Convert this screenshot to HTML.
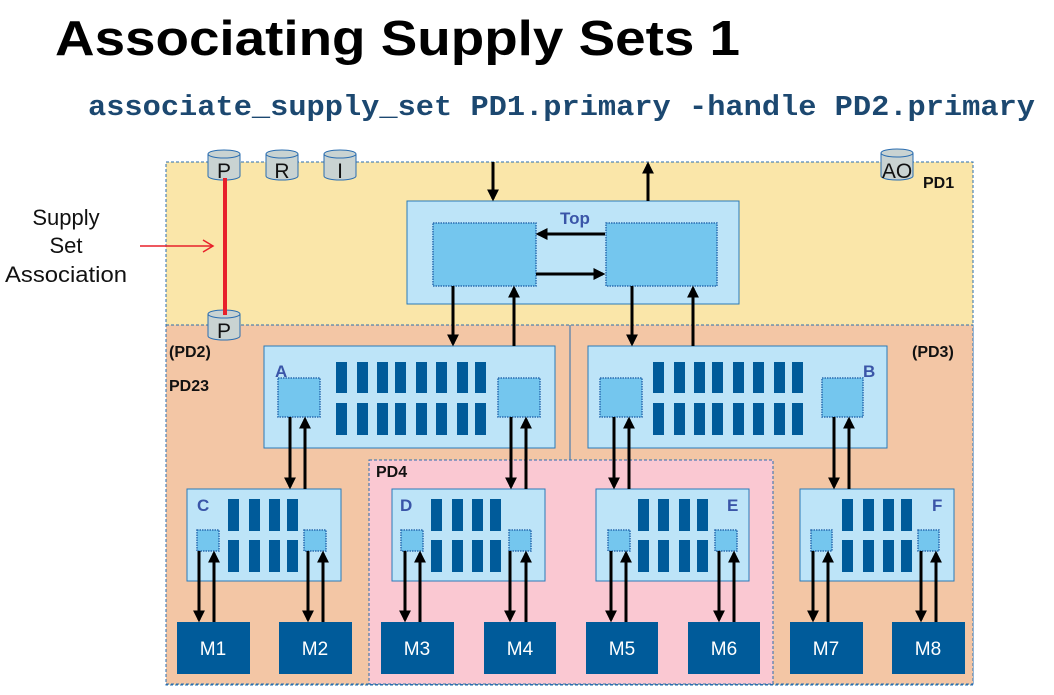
<!DOCTYPE html>
<html><head><meta charset="utf-8"><style>
html,body{margin:0;padding:0;background:#fff;}
svg{display:block;}
</style></head><body>
<svg width="1054" height="695" viewBox="0 0 1054 695" xmlns="http://www.w3.org/2000/svg" font-family="Liberation Sans, Arial, sans-serif">
<defs>
<marker id="ah" markerWidth="4" markerHeight="4" refX="3.2" refY="2" orient="auto" markerUnits="strokeWidth"><path d="M0,0 L4,2 L0,4 z" fill="#000"/></marker>
</defs>
<text x="55" y="55" font-size="49" font-weight="bold" textLength="685" lengthAdjust="spacingAndGlyphs">Associating Supply Sets 1</text>
<text x="88" y="115" font-family="Liberation Mono, monospace" font-size="29" font-weight="bold" fill="#1c4870" textLength="947" lengthAdjust="spacingAndGlyphs">associate_supply_set PD1.primary -handle PD2.primary</text>

<rect x="166" y="162" width="807" height="523" fill="#fae6a9" stroke="#2a6db0" stroke-width="1" stroke-dasharray="3,2"/>
<rect x="166" y="325" width="807" height="359" fill="#f3c6a5" stroke="#2a6db0" stroke-width="1" stroke-dasharray="3,2"/>
<line x1="570" y1="325" x2="570" y2="460" stroke="#2a6db0" stroke-width="1"/>
<rect x="369" y="460" width="404" height="224" fill="#fac8d2" stroke="#2a6db0" stroke-width="1" stroke-dasharray="3,2"/>

<g font-weight="bold" font-size="16" fill="#111">
<text x="923" y="188">PD1</text>
<text x="169" y="357">(PD2)</text>
<text x="169" y="391">PD23</text>
<text x="912" y="357">(PD3)</text>
<text x="376" y="477">PD4</text>
</g>

<g font-size="22" fill="#111" text-anchor="middle">
<text x="66" y="225">Supply</text>
<text x="66" y="253">Set</text>
<text x="66" y="282" textLength="122" lengthAdjust="spacingAndGlyphs">Association</text>
</g>
<line x1="140" y1="246" x2="213" y2="246" stroke="#e8202a" stroke-width="1.5"/>
<path d="M203,240 L213,246 L203,252" fill="none" stroke="#e8202a" stroke-width="1.5"/>

<g stroke="#2a6db0" stroke-width="1" fill="#c9d3d2">
<path d="M208,154 v22 a16,4 0 0 0 32,0 v-22"/><ellipse cx="224" cy="154" rx="16" ry="4"/>
<path d="M266,154 v22 a16,4 0 0 0 32,0 v-22"/><ellipse cx="282" cy="154" rx="16" ry="4"/>
<path d="M324,154 v22 a16,4 0 0 0 32,0 v-22"/><ellipse cx="340" cy="154" rx="16" ry="4"/>
<path d="M881,153 v23 a16,4 0 0 0 32,0 v-23"/><ellipse cx="897" cy="153" rx="16" ry="4"/>
<path d="M208,314 v22 a16,4 0 0 0 32,0 v-22"/><ellipse cx="224" cy="314" rx="16" ry="4"/>
</g>
<line x1="225" y1="178" x2="225" y2="315" stroke="#e8202a" stroke-width="4"/>
<g font-size="21" fill="#111" text-anchor="middle">
<text x="224" y="178">P</text><text x="282" y="178">R</text><text x="340" y="178">I</text>
<text x="897" y="178">AO</text><text x="224" y="338">P</text>
</g>

<rect x="407" y="201" width="332" height="103" fill="#bde4f8" stroke="#2a7ab8" stroke-width="1"/>
<text x="575" y="224" font-size="17" font-weight="bold" fill="#3a55a8" text-anchor="middle">Top</text>
<g fill="#74c6ee" stroke="#2a6db0" stroke-width="1.5" stroke-dasharray="1.5,1">
<rect x="433" y="223" width="103" height="63"/>
<rect x="606" y="223" width="111" height="63"/>
</g>

<g fill="#bde4f8" stroke="#2a7ab8" stroke-width="1">
<rect x="264" y="346" width="291" height="102"/>
<rect x="588" y="346" width="299" height="102"/>
<rect x="187" y="489" width="154" height="92"/>
<rect x="392" y="489" width="153" height="92"/>
<rect x="596" y="489" width="153" height="92"/>
<rect x="800" y="489" width="154" height="92"/>
</g>
<g font-size="17" font-weight="bold" fill="#3a55a8">
<text x="275" y="377">A</text><text x="863" y="377">B</text>
<text x="197" y="511">C</text><text x="400" y="511">D</text>
<text x="727" y="511">E</text><text x="932" y="511">F</text>
</g>
<g fill="#74c6ee" stroke="#2a6db0" stroke-width="1.5" stroke-dasharray="1.5,1">
<rect x="278" y="378" width="42" height="39"/><rect x="498" y="378" width="42" height="39"/>
<rect x="600" y="378" width="42" height="39"/><rect x="822" y="378" width="41" height="39"/>
<rect x="197" y="530" width="22" height="21"/><rect x="304" y="530" width="22" height="21"/>
<rect x="401" y="530" width="22" height="21"/><rect x="509" y="530" width="22" height="21"/>
<rect x="608" y="530" width="22" height="21"/><rect x="715" y="530" width="22" height="21"/>
<rect x="811" y="530" width="21" height="21"/><rect x="918" y="530" width="21" height="21"/>
</g>
<g fill="#005b9a">
<rect x="336" y="362" width="11" height="31"/><rect x="357" y="362" width="11" height="31"/><rect x="377" y="362" width="11" height="31"/><rect x="395" y="362" width="11" height="31"/><rect x="416" y="362" width="11" height="31"/><rect x="436" y="362" width="11" height="31"/><rect x="457" y="362" width="11" height="31"/><rect x="475" y="362" width="11" height="31"/>
<rect x="336" y="403" width="11" height="32"/><rect x="357" y="403" width="11" height="32"/><rect x="377" y="403" width="11" height="32"/><rect x="395" y="403" width="11" height="32"/><rect x="416" y="403" width="11" height="32"/><rect x="436" y="403" width="11" height="32"/><rect x="457" y="403" width="11" height="32"/><rect x="475" y="403" width="11" height="32"/>
<rect x="653" y="362" width="11" height="31"/><rect x="674" y="362" width="11" height="31"/><rect x="694" y="362" width="11" height="31"/><rect x="712" y="362" width="11" height="31"/><rect x="733" y="362" width="11" height="31"/><rect x="753" y="362" width="11" height="31"/><rect x="774" y="362" width="11" height="31"/><rect x="792" y="362" width="11" height="31"/>
<rect x="653" y="403" width="11" height="32"/><rect x="674" y="403" width="11" height="32"/><rect x="694" y="403" width="11" height="32"/><rect x="712" y="403" width="11" height="32"/><rect x="733" y="403" width="11" height="32"/><rect x="753" y="403" width="11" height="32"/><rect x="774" y="403" width="11" height="32"/><rect x="792" y="403" width="11" height="32"/>
<rect x="228" y="499" width="11" height="32"/><rect x="249" y="499" width="11" height="32"/><rect x="269" y="499" width="11" height="32"/><rect x="287" y="499" width="11" height="32"/>
<rect x="228" y="540" width="11" height="32"/><rect x="249" y="540" width="11" height="32"/><rect x="269" y="540" width="11" height="32"/><rect x="287" y="540" width="11" height="32"/>
<rect x="431" y="499" width="11" height="32"/><rect x="452" y="499" width="11" height="32"/><rect x="472" y="499" width="11" height="32"/><rect x="490" y="499" width="11" height="32"/>
<rect x="431" y="540" width="11" height="32"/><rect x="452" y="540" width="11" height="32"/><rect x="472" y="540" width="11" height="32"/><rect x="490" y="540" width="11" height="32"/>
<rect x="638" y="499" width="11" height="32"/><rect x="658" y="499" width="11" height="32"/><rect x="679" y="499" width="11" height="32"/><rect x="697" y="499" width="11" height="32"/>
<rect x="638" y="540" width="11" height="32"/><rect x="658" y="540" width="11" height="32"/><rect x="679" y="540" width="11" height="32"/><rect x="697" y="540" width="11" height="32"/>
<rect x="842" y="499" width="11" height="32"/><rect x="863" y="499" width="11" height="32"/><rect x="883" y="499" width="11" height="32"/><rect x="901" y="499" width="11" height="32"/>
<rect x="842" y="540" width="11" height="32"/><rect x="863" y="540" width="11" height="32"/><rect x="883" y="540" width="11" height="32"/><rect x="901" y="540" width="11" height="32"/>
</g>
<g fill="#005b9a">
<rect x="177" y="622" width="73" height="52"/><rect x="279" y="622" width="73" height="52"/>
<rect x="381" y="622" width="73" height="52"/><rect x="484" y="622" width="72" height="52"/>
<rect x="586" y="622" width="72" height="52"/><rect x="688" y="622" width="72" height="52"/>
<rect x="790" y="622" width="73" height="52"/><rect x="892" y="622" width="73" height="52"/>
</g>
<g font-size="19" fill="#fff" text-anchor="middle">
<text x="213" y="655">M1</text><text x="315" y="655">M2</text><text x="417" y="655">M3</text><text x="520" y="655">M4</text>
<text x="622" y="655">M5</text><text x="724" y="655">M6</text><text x="826" y="655">M7</text><text x="928" y="655">M8</text>
</g>

<g stroke="#000" stroke-width="3" marker-end="url(#ah)">
<line x1="493" y1="162" x2="493" y2="199"/>
<line x1="648" y1="201" x2="648" y2="164"/>
<line x1="605" y1="234" x2="538" y2="234"/>
<line x1="536" y1="274" x2="603" y2="274"/>
<line x1="453" y1="286" x2="453" y2="344"/>
<line x1="514" y1="346" x2="514" y2="288"/>
<line x1="632" y1="286" x2="632" y2="344"/>
<line x1="693" y1="346" x2="693" y2="288"/>
<line x1="290" y1="417" x2="290" y2="487"/>
<line x1="305" y1="489" x2="305" y2="419"/>
<line x1="511" y1="417" x2="511" y2="487"/>
<line x1="526" y1="489" x2="526" y2="419"/>
<line x1="614" y1="417" x2="614" y2="487"/>
<line x1="629" y1="489" x2="629" y2="419"/>
<line x1="834" y1="417" x2="834" y2="487"/>
<line x1="849" y1="489" x2="849" y2="419"/>
<line x1="199" y1="551" x2="199" y2="620"/><line x1="214" y1="622" x2="214" y2="553"/>
<line x1="308" y1="551" x2="308" y2="620"/><line x1="323" y1="622" x2="323" y2="553"/>
<line x1="405" y1="551" x2="405" y2="620"/><line x1="420" y1="622" x2="420" y2="553"/>
<line x1="510" y1="551" x2="510" y2="620"/><line x1="526" y1="622" x2="526" y2="553"/>
<line x1="611" y1="551" x2="611" y2="620"/><line x1="626" y1="622" x2="626" y2="553"/>
<line x1="719" y1="551" x2="719" y2="620"/><line x1="734" y1="622" x2="734" y2="553"/>
<line x1="813" y1="551" x2="813" y2="620"/><line x1="828" y1="622" x2="828" y2="553"/>
<line x1="921" y1="551" x2="921" y2="620"/><line x1="936" y1="622" x2="936" y2="553"/>
</g>
</svg>
</body></html>
